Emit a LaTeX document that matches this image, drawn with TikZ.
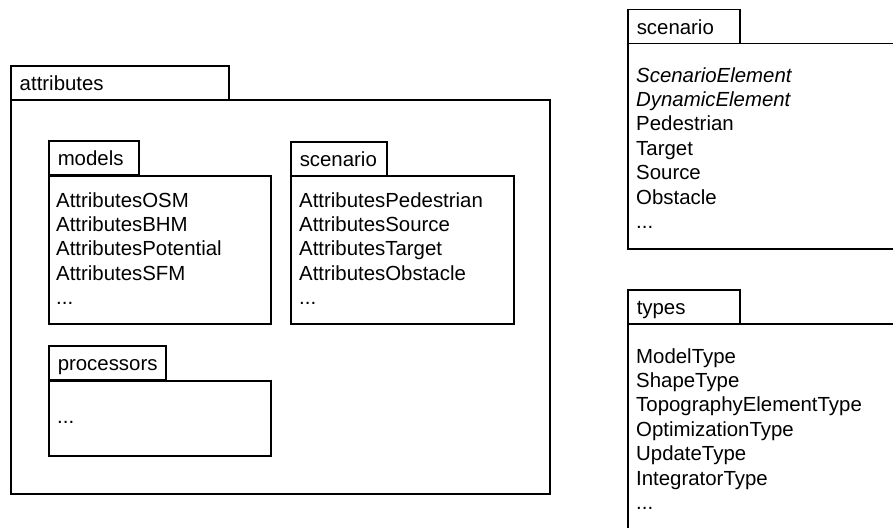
\documentclass[tikz,border=0pt]{standalone}
\usepackage{fontspec}
\setmainfont{Liberation Sans}
\begin{document}
\begin{tikzpicture}[x=1pt,y=-1pt,
  pkgline/.style={draw=black, line width=1.5pt},
  tabbox/.style={pkgline, anchor=north west, inner xsep=9pt, inner ysep=0pt,
    minimum height=34pt, text height=18pt, text depth=2pt,
    font=\fontsize{20.4}{24}\selectfont},
  bodybox/.style={pkgline, anchor=north west, inner sep=0pt},
  contents/.style={anchor=base west, inner sep=0pt,
    font=\fontsize{20.4}{24.4}\selectfont}
]
\useasboundingbox (0,0) rectangle (893,527);
\clip (0,0) rectangle (893,527);

% outer package: attributes
\node[bodybox, minimum width=539pt, minimum height=394pt] (attr-body) at (10,99) {};
\node[tabbox, text width=200pt] (attr-tab) at (10,65) {attributes};

% attributes::models
\node[bodybox, minimum width=222pt, minimum height=148pt] (models-body) at (48,175) {};
\node[tabbox, text width=72pt] (models-tab) at (48,140) {models};
\node[contents] (models-list) at (56,207)
  {\begin{tabular}[t]{@{}l@{}}AttributesOSM\\ AttributesBHM\\ AttributesPotential\\ AttributesSFM\\ ...\end{tabular}};

% attributes::scenario
\node[bodybox, minimum width=223pt, minimum height=148pt] (ascen-body) at (290,175) {};
\node[tabbox, text width=78pt] (ascen-tab) at (290,141) {scenario};
\node[contents] (ascen-list) at (299,207)
  {\begin{tabular}[t]{@{}l@{}}AttributesPedestrian\\ AttributesSource\\ AttributesTarget\\ AttributesObstacle\\ ...\end{tabular}};

% attributes::processors
\node[bodybox, minimum width=222pt, minimum height=75pt] (proc-body) at (48,380) {};
\node[tabbox, text width=99pt] (proc-tab) at (48,345) {processors};
\node[contents] (proc-list) at (57,423) {...};

% package: scenario
\node[bodybox, minimum width=290pt, minimum height=205pt] (scen-body) at (627,43) {};
\node[tabbox, text width=94pt] (scen-tab) at (627,9) {scenario};
\node[contents] (scen-list) at (636,82)
  {\begin{tabular}[t]{@{}l@{}}\textit{ScenarioElement}\\ \textit{DynamicElement}\\ Pedestrian\\ Target\\ Source\\ Obstacle\\ ...\end{tabular}};

% package: types
\node[bodybox, minimum width=290pt, minimum height=240pt] (types-body) at (627,323) {};
\node[tabbox, text width=94pt] (types-tab) at (627,289) {types};
\node[contents] (types-list) at (636,363)
  {\begin{tabular}[t]{@{}l@{}}ModelType\\ ShapeType\\ TopographyElementType\\ OptimizationType\\ UpdateType\\ IntegratorType\\ ...\end{tabular}};
\end{tikzpicture}
\end{document}
